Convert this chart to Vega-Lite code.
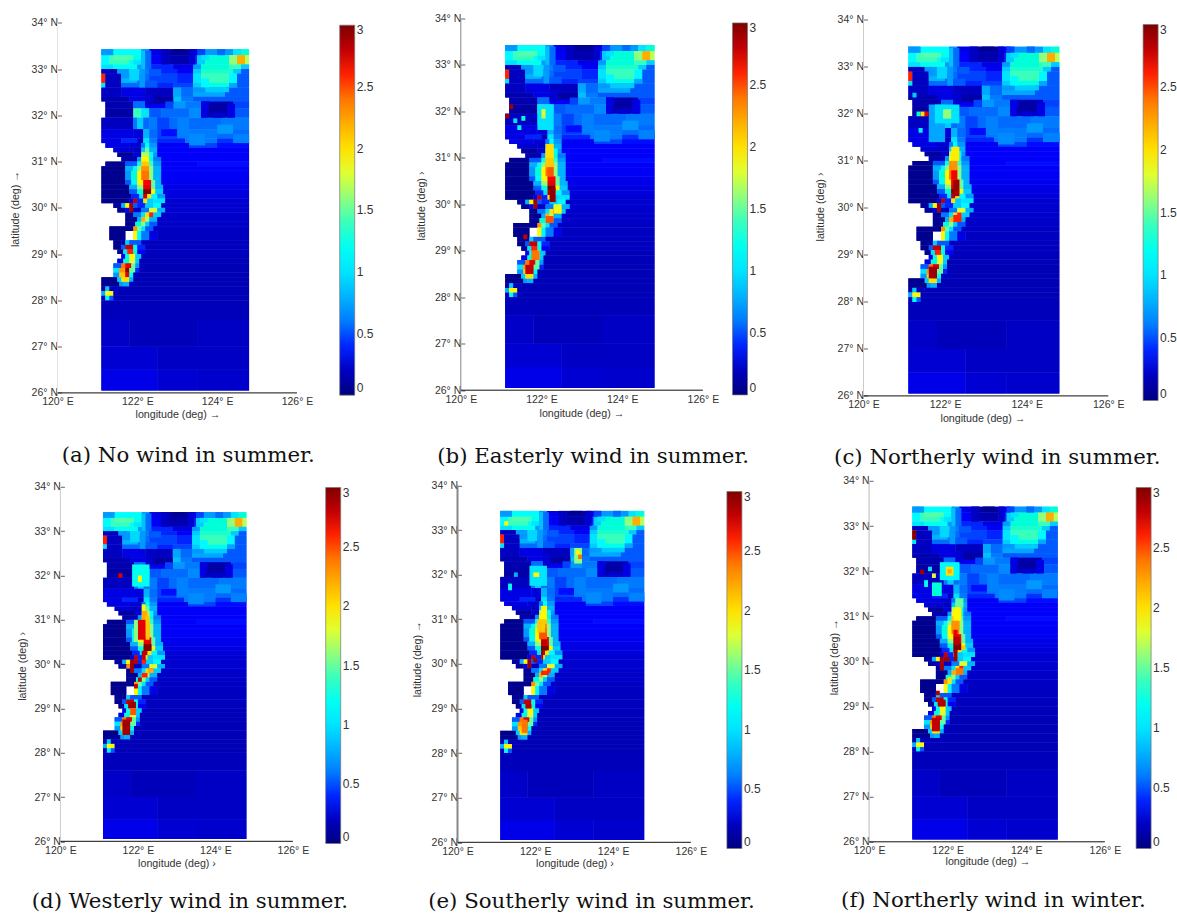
{"$schema":"https://vega.github.io/schema/vega-lite/v6.json","background":"white","padding":{"left":9.5,"top":13.5,"right":0,"bottom":0},
"config":{"view":{"stroke":null},"axis":{"grid":false,"labelFont":"Liberation Sans","titleFont":"Liberation Sans","labelColor":"#333","titleColor":"#333","titleFontWeight":"normal","labelFontSize":10.5,"titleFontSize":10.7,"labelFlush":false,"labelOverlap":false,"labelBound":false},
"legend":{"labelFont":"Liberation Sans","labelFontSize":12,"labelColor":"#333","gradientThickness":15,"gradientStrokeColor":"#777","gradientStrokeWidth":0.7,"labelOffset":3},
"title":{"font":"DejaVu Serif","fontSize":21.3,"fontWeight":"normal","color":"#111","orient":"bottom","anchor":"start","frame":"group"}},
"datasets":{
"leftLine":[{"x":120,"y":26,"y2":34}],
"botLine":[{"x":120,"x2":126,"y":26}],
"base":[
{"x":121.1,"x2":121.3,"y":33.3,"y2":33.43,"v":0.9},{"x":121.3,"x2":122.1,"y":33.3,"y2":33.43,"v":1.15},{"x":122.1,"x2":122.3,"y":33.3,"y2":33.43,"v":0.7},{"x":122.3,"x2":122.8,"y":33.3,"y2":33.43,"v":0.3},{"x":122.8,"x2":123.3,"y":33.3,"y2":33.43,"v":0.1},{"x":123.3,"x2":123.6,"y":33.3,"y2":33.43,"v":0.3},{"x":123.6,"x2":124.4,"y":33.3,"y2":33.43,"v":0.7},{"x":124.4,"x2":124.6,"y":33.3,"y2":33.43,"v":1.0},{"x":124.6,"x2":124.8,"y":33.3,"y2":33.43,"v":1.3},
{"x":121.1,"x2":121.3,"y":33.1,"y2":33.3,"v":1.1},{"x":121.3,"x2":121.8,"y":33.1,"y2":33.3,"v":1.4},{"x":121.8,"x2":122.1,"y":33.1,"y2":33.3,"v":1.2},{"x":122.1,"x2":122.3,"y":33.1,"y2":33.3,"v":0.7},{"x":122.3,"x2":122.8,"y":33.1,"y2":33.3,"v":0.35},{"x":122.8,"x2":123.3,"y":33.1,"y2":33.3,"v":0.15},{"x":123.3,"x2":123.5,"y":33.1,"y2":33.3,"v":0.4},{"x":123.5,"x2":123.7,"y":33.1,"y2":33.3,"v":0.9},{"x":123.7,"x2":124.3,"y":33.1,"y2":33.3,"v":1.3},{"x":124.3,"x2":124.5,"y":33.1,"y2":33.3,"v":1.6},{"x":124.5,"x2":124.7,"y":33.1,"y2":33.3,"v":2.2},{"x":124.7,"x2":124.8,"y":33.1,"y2":33.3,"v":1.7},
{"x":121.1,"x2":121.4,"y":33,"y2":33.1,"v":1.0},{"x":121.4,"x2":122,"y":33,"y2":33.1,"v":1.2},{"x":122,"x2":122.3,"y":33,"y2":33.1,"v":0.7},{"x":122.3,"x2":122.9,"y":33,"y2":33.1,"v":0.4},{"x":122.9,"x2":123.4,"y":33,"y2":33.1,"v":0.3},{"x":123.4,"x2":123.6,"y":33,"y2":33.1,"v":0.7},{"x":123.6,"x2":124.3,"y":33,"y2":33.1,"v":1.3},{"x":124.3,"x2":124.6,"y":33,"y2":33.1,"v":1.4},{"x":124.6,"x2":124.8,"y":33,"y2":33.1,"v":0.9},
{"x":121.1,"x2":121.5,"y":32.9,"y2":33,"v":0.2},{"x":121.5,"x2":121.7,"y":32.9,"y2":33,"v":0.7},{"x":121.7,"x2":122.1,"y":32.9,"y2":33,"v":1.0},{"x":122.1,"x2":122.3,"y":32.9,"y2":33,"v":0.6},{"x":122.3,"x2":123,"y":32.9,"y2":33,"v":0.4},{"x":123,"x2":123.4,"y":32.9,"y2":33,"v":0.35},{"x":123.4,"x2":123.6,"y":32.9,"y2":33,"v":0.9},{"x":123.6,"x2":124.4,"y":32.9,"y2":33,"v":1.35},{"x":124.4,"x2":124.6,"y":32.9,"y2":33,"v":0.9},{"x":124.6,"x2":124.8,"y":32.9,"y2":33,"v":0.5},
{"x":121.1,"x2":121.2,"y":32.7,"y2":32.9,"v":2.6},{"x":121.2,"x2":121.6,"y":32.7,"y2":32.9,"v":0.2},{"x":121.6,"x2":122,"y":32.7,"y2":32.9,"v":0.8},{"x":122,"x2":122.3,"y":32.7,"y2":32.9,"v":0.55},{"x":122.3,"x2":123,"y":32.7,"y2":32.9,"v":0.45},{"x":123,"x2":123.4,"y":32.7,"y2":32.9,"v":0.4},{"x":123.4,"x2":123.6,"y":32.7,"y2":32.9,"v":1.0},{"x":123.6,"x2":124.3,"y":32.7,"y2":32.9,"v":1.4},{"x":124.3,"x2":124.5,"y":32.7,"y2":32.9,"v":1.1},{"x":124.5,"x2":124.8,"y":32.7,"y2":32.9,"v":0.5},
{"x":121.1,"x2":121.2,"y":32.6,"y2":32.7,"v":1.0},{"x":121.2,"x2":121.6,"y":32.6,"y2":32.7,"v":0.2},{"x":121.6,"x2":122.1,"y":32.6,"y2":32.7,"v":0.55},{"x":122.1,"x2":122.9,"y":32.6,"y2":32.7,"v":0.4},{"x":122.9,"x2":123.4,"y":32.6,"y2":32.7,"v":0.45},{"x":123.4,"x2":123.6,"y":32.6,"y2":32.7,"v":0.9},{"x":123.6,"x2":124.3,"y":32.6,"y2":32.7,"v":1.25},{"x":124.3,"x2":124.5,"y":32.6,"y2":32.7,"v":0.9},{"x":124.5,"x2":124.8,"y":32.6,"y2":32.7,"v":0.5},
{"x":121.1,"x2":121.6,"y":32.4,"y2":32.6,"v":0.2},{"x":121.6,"x2":122.2,"y":32.4,"y2":32.6,"v":0.3},{"x":122.2,"x2":122.9,"y":32.4,"y2":32.6,"v":0.2},{"x":122.9,"x2":123.1,"y":32.4,"y2":32.6,"v":0.75},{"x":123.1,"x2":123.4,"y":32.4,"y2":32.6,"v":0.55},{"x":123.4,"x2":124.2,"y":32.4,"y2":32.6,"v":0.75},{"x":124.2,"x2":124.8,"y":32.4,"y2":32.6,"v":0.5},
{"x":121.1,"x2":121.8,"y":32.3,"y2":32.4,"v":0.15},{"x":121.8,"x2":122.2,"y":32.3,"y2":32.4,"v":0.3},{"x":122.2,"x2":122.9,"y":32.3,"y2":32.4,"v":0.15},{"x":122.9,"x2":123.1,"y":32.3,"y2":32.4,"v":0.85},{"x":123.1,"x2":123.4,"y":32.3,"y2":32.4,"v":0.6},{"x":123.4,"x2":124.8,"y":32.3,"y2":32.4,"v":0.5},
{"x":121.2,"x2":121.9,"y":32.15,"y2":32.3,"v":0.15},{"x":121.9,"x2":122.2,"y":32.15,"y2":32.3,"v":0.55},{"x":122.2,"x2":122.9,"y":32.15,"y2":32.3,"v":0.35},{"x":122.9,"x2":123.2,"y":32.15,"y2":32.3,"v":0.7},{"x":123.2,"x2":123.6,"y":32.15,"y2":32.3,"v":0.6},{"x":123.6,"x2":124.4,"y":32.15,"y2":32.3,"v":0.15},{"x":124.4,"x2":124.8,"y":32.15,"y2":32.3,"v":0.45},
{"x":121.2,"x2":121.9,"y":31.95,"y2":32.15,"v":0.12},{"x":121.9,"x2":122.1,"y":31.95,"y2":32.15,"v":1.4},{"x":122.1,"x2":122.3,"y":31.95,"y2":32.15,"v":1.0},{"x":122.3,"x2":122.6,"y":31.95,"y2":32.15,"v":0.5},{"x":122.6,"x2":123.3,"y":31.95,"y2":32.15,"v":0.55},{"x":123.3,"x2":123.6,"y":31.95,"y2":32.15,"v":0.65},{"x":123.6,"x2":124.4,"y":31.95,"y2":32.15,"v":0.2},{"x":124.4,"x2":124.8,"y":31.95,"y2":32.15,"v":0.5},
{"x":121.1,"x2":121.9,"y":31.7,"y2":31.95,"v":0.2},{"x":121.9,"x2":122,"y":31.7,"y2":31.95,"v":0.6},{"x":122,"x2":122.15,"y":31.7,"y2":31.95,"v":0.9},{"x":122.15,"x2":122.3,"y":31.7,"y2":31.95,"v":0.55},{"x":122.3,"x2":122.5,"y":31.7,"y2":31.95,"v":0.6},{"x":122.5,"x2":124.1,"y":31.7,"y2":31.95,"v":0.55},{"x":124.1,"x2":124.8,"y":31.7,"y2":31.95,"v":0.6},
{"x":121.1,"x2":121.9,"y":31.5,"y2":31.7,"v":0.3},{"x":121.9,"x2":122.15,"y":31.5,"y2":31.7,"v":0.28},{"x":122.15,"x2":122.3,"y":31.5,"y2":31.7,"v":0.8},{"x":122.3,"x2":122.5,"y":31.5,"y2":31.7,"v":0.55},{"x":122.5,"x2":123,"y":31.5,"y2":31.7,"v":0.45},{"x":123,"x2":124,"y":31.5,"y2":31.7,"v":0.6},{"x":124,"x2":124.8,"y":31.5,"y2":31.7,"v":0.55},
{"x":121.1,"x2":121.6,"y":31.4,"y2":31.5,"v":0.3},{"x":121.6,"x2":122,"y":31.4,"y2":31.5,"v":0.4},{"x":122,"x2":122.15,"y":31.4,"y2":31.5,"v":0.2},{"x":122.15,"x2":122.3,"y":31.4,"y2":31.5,"v":1.0},{"x":122.3,"x2":122.5,"y":31.4,"y2":31.5,"v":0.6},{"x":122.5,"x2":123.2,"y":31.4,"y2":31.5,"v":0.4},{"x":123.2,"x2":124,"y":31.4,"y2":31.5,"v":0.6},{"x":124,"x2":124.8,"y":31.4,"y2":31.5,"v":0.42},
{"x":121.2,"x2":121.8,"y":31.3,"y2":31.4,"v":0.3},{"x":121.8,"x2":122.1,"y":31.3,"y2":31.4,"v":0.25},{"x":122.1,"x2":122.2,"y":31.3,"y2":31.4,"v":0.6},{"x":122.2,"x2":122.3,"y":31.3,"y2":31.4,"v":1.2},{"x":122.3,"x2":122.5,"y":31.3,"y2":31.4,"v":0.7},{"x":122.5,"x2":123.3,"y":31.3,"y2":31.4,"v":0.35},{"x":123.3,"x2":124,"y":31.3,"y2":31.4,"v":0.45},{"x":124,"x2":124.8,"y":31.3,"y2":31.4,"v":0.38},
{"x":121.4,"x2":121.9,"y":31.2,"y2":31.3,"v":0.25},{"x":121.9,"x2":122.1,"y":31.2,"y2":31.3,"v":0.2},{"x":122.1,"x2":122.2,"y":31.2,"y2":31.3,"v":0.9},{"x":122.2,"x2":122.3,"y":31.2,"y2":31.3,"v":1.5},{"x":122.3,"x2":122.5,"y":31.2,"y2":31.3,"v":0.8},{"x":122.5,"x2":124.8,"y":31.2,"y2":31.3,"v":0.36},
{"x":121.5,"x2":121.9,"y":31.1,"y2":31.2,"v":0.1},{"x":121.9,"x2":122.1,"y":31.1,"y2":31.2,"v":0.25},{"x":122.1,"x2":122.3,"y":31.1,"y2":31.2,"v":1.7},{"x":122.3,"x2":122.4,"y":31.1,"y2":31.2,"v":1.2},{"x":122.4,"x2":122.5,"y":31.1,"y2":31.2,"v":0.7},{"x":122.5,"x2":124.8,"y":31.1,"y2":31.2,"v":0.36},
{"x":121.6,"x2":122,"y":31,"y2":31.1,"v":0.15},{"x":122,"x2":122.1,"y":31,"y2":31.1,"v":0.7},{"x":122.1,"x2":122.3,"y":31,"y2":31.1,"v":1.9},{"x":122.3,"x2":122.4,"y":31,"y2":31.1,"v":1.3},{"x":122.4,"x2":122.6,"y":31,"y2":31.1,"v":0.6},{"x":122.6,"x2":124.8,"y":31,"y2":31.1,"v":0.36},
{"x":121.2,"x2":121.7,"y":30.9,"y2":31,"v":0.05},{"x":121.7,"x2":122,"y":30.9,"y2":31,"v":0.5},{"x":122,"x2":122.1,"y":30.9,"y2":31,"v":1.2},{"x":122.1,"x2":122.3,"y":30.9,"y2":31,"v":2.1},{"x":122.3,"x2":122.4,"y":30.9,"y2":31,"v":1.4},{"x":122.4,"x2":122.6,"y":30.9,"y2":31,"v":0.7},{"x":122.6,"x2":123.5,"y":30.9,"y2":31,"v":0.36},{"x":123.5,"x2":124.8,"y":30.9,"y2":31,"v":0.38},
{"x":121.1,"x2":121.7,"y":30.8,"y2":30.9,"v":0.05},{"x":121.7,"x2":121.9,"y":30.8,"y2":30.9,"v":0.8},{"x":121.9,"x2":122,"y":30.8,"y2":30.9,"v":1.1},{"x":122,"x2":122.1,"y":30.8,"y2":30.9,"v":1.6},{"x":122.1,"x2":122.3,"y":30.8,"y2":30.9,"v":2.3},{"x":122.3,"x2":122.4,"y":30.8,"y2":30.9,"v":1.6},{"x":122.4,"x2":122.6,"y":30.8,"y2":30.9,"v":0.8},{"x":122.6,"x2":124.8,"y":30.8,"y2":30.9,"v":0.36},
{"x":121.1,"x2":121.7,"y":30.6,"y2":30.8,"v":0.05},{"x":121.7,"x2":121.85,"y":30.6,"y2":30.8,"v":0.7},{"x":121.85,"x2":122,"y":30.6,"y2":30.8,"v":1.3},{"x":122,"x2":122.1,"y":30.6,"y2":30.8,"v":1.9},{"x":122.1,"x2":122.3,"y":30.6,"y2":30.8,"v":2.4},{"x":122.3,"x2":122.4,"y":30.6,"y2":30.8,"v":1.6},{"x":122.4,"x2":122.6,"y":30.6,"y2":30.8,"v":0.8},{"x":122.6,"x2":124.8,"y":30.6,"y2":30.8,"v":0.35},
{"x":121.1,"x2":121.7,"y":30.5,"y2":30.6,"v":0.05},{"x":121.7,"x2":121.85,"y":30.5,"y2":30.6,"v":0.5},{"x":121.85,"x2":122,"y":30.5,"y2":30.6,"v":1.1},{"x":122,"x2":122.15,"y":30.5,"y2":30.6,"v":1.9},{"x":122.15,"x2":122.35,"y":30.5,"y2":30.6,"v":2.65},{"x":122.35,"x2":122.45,"y":30.5,"y2":30.6,"v":1.5},{"x":122.45,"x2":122.6,"y":30.5,"y2":30.6,"v":0.8},{"x":122.6,"x2":124.8,"y":30.5,"y2":30.6,"v":0.33},
{"x":121.1,"x2":121.8,"y":30.4,"y2":30.5,"v":0.05},{"x":121.8,"x2":122,"y":30.4,"y2":30.5,"v":0.8},{"x":122,"x2":122.15,"y":30.4,"y2":30.5,"v":1.6},{"x":122.15,"x2":122.35,"y":30.4,"y2":30.5,"v":2.7},{"x":122.35,"x2":122.45,"y":30.4,"y2":30.5,"v":1.5},{"x":122.45,"x2":122.65,"y":30.4,"y2":30.5,"v":0.8},{"x":122.65,"x2":124.8,"y":30.4,"y2":30.5,"v":0.31},
{"x":121.1,"x2":121.8,"y":30.3,"y2":30.4,"v":0.05},{"x":121.8,"x2":122,"y":30.3,"y2":30.4,"v":0.5},{"x":122,"x2":122.15,"y":30.3,"y2":30.4,"v":1.3},{"x":122.15,"x2":122.35,"y":30.3,"y2":30.4,"v":3},{"x":122.35,"x2":122.45,"y":30.3,"y2":30.4,"v":1.9},{"x":122.45,"x2":122.65,"y":30.3,"y2":30.4,"v":0.9},{"x":122.65,"x2":124.8,"y":30.3,"y2":30.4,"v":0.29},
{"x":121.1,"x2":121.85,"y":30.2,"y2":30.3,"v":0.05},{"x":121.85,"x2":122.05,"y":30.2,"y2":30.3,"v":0.4},{"x":122.05,"x2":122.15,"y":30.2,"y2":30.3,"v":1.0},{"x":122.15,"x2":122.25,"y":30.2,"y2":30.3,"v":2.8},{"x":122.25,"x2":122.35,"y":30.2,"y2":30.3,"v":2.0},{"x":122.35,"x2":122.5,"y":30.2,"y2":30.3,"v":1.1},{"x":122.5,"x2":122.7,"y":30.2,"y2":30.3,"v":0.7},{"x":122.7,"x2":124.8,"y":30.2,"y2":30.3,"v":0.27},
{"x":121.1,"x2":121.8,"y":30.1,"y2":30.2,"v":0.05},{"x":121.8,"x2":121.9,"y":30.1,"y2":30.2,"v":0.3},{"x":121.9,"x2":122,"y":30.1,"y2":30.2,"v":2.8},{"x":122,"x2":122.15,"y":30.1,"y2":30.2,"v":0.4},{"x":122.15,"x2":122.25,"y":30.1,"y2":30.2,"v":2.0},{"x":122.25,"x2":122.4,"y":30.1,"y2":30.2,"v":0.9},{"x":122.4,"x2":122.7,"y":30.1,"y2":30.2,"v":1.0},{"x":122.7,"x2":124.8,"y":30.1,"y2":30.2,"v":0.25},
{"x":121.4,"x2":121.6,"y":30,"y2":30.1,"v":0.1},{"x":121.6,"x2":121.7,"y":30,"y2":30.1,"v":0.8},{"x":121.7,"x2":121.8,"y":30,"y2":30.1,"v":1.9},{"x":121.8,"x2":121.9,"y":30,"y2":30.1,"v":2.9},{"x":121.9,"x2":122,"y":30,"y2":30.1,"v":0.5},{"x":122,"x2":122.2,"y":30,"y2":30.1,"v":0.4},{"x":122.2,"x2":122.4,"y":30,"y2":30.1,"v":0.9},{"x":122.4,"x2":122.6,"y":30,"y2":30.1,"v":1.1},{"x":122.6,"x2":124.8,"y":30,"y2":30.1,"v":0.24},
{"x":121.5,"x2":121.7,"y":29.9,"y2":30,"v":0.1},{"x":121.7,"x2":121.8,"y":29.9,"y2":30,"v":0.3},{"x":121.8,"x2":121.9,"y":29.9,"y2":30,"v":2.9},{"x":121.9,"x2":122.1,"y":29.9,"y2":30,"v":0.2},{"x":122.1,"x2":122.3,"y":29.9,"y2":30,"v":0.6},{"x":122.3,"x2":122.5,"y":29.9,"y2":30,"v":1.8},{"x":122.5,"x2":122.7,"y":29.9,"y2":30,"v":0.8},{"x":122.7,"x2":124.8,"y":29.9,"y2":30,"v":0.24},
{"x":121.7,"x2":121.9,"y":29.8,"y2":29.9,"v":0.08},{"x":121.9,"x2":122.1,"y":29.8,"y2":29.9,"v":0.6},{"x":122.1,"x2":122.2,"y":29.8,"y2":29.9,"v":1.0},{"x":122.2,"x2":122.3,"y":29.8,"y2":29.9,"v":2.0},{"x":122.3,"x2":122.4,"y":29.8,"y2":29.9,"v":2.6},{"x":122.4,"x2":122.6,"y":29.8,"y2":29.9,"v":0.9},{"x":122.6,"x2":124.8,"y":29.8,"y2":29.9,"v":0.23},
{"x":121.7,"x2":122,"y":29.7,"y2":29.8,"v":0.06},{"x":122,"x2":122.1,"y":29.7,"y2":29.8,"v":0.8},{"x":122.1,"x2":122.2,"y":29.7,"y2":29.8,"v":2.2},{"x":122.2,"x2":122.3,"y":29.7,"y2":29.8,"v":1.7},{"x":122.3,"x2":122.5,"y":29.7,"y2":29.8,"v":0.8},{"x":122.5,"x2":124.8,"y":29.7,"y2":29.8,"v":0.22},
{"x":121.7,"x2":121.95,"y":29.6,"y2":29.7,"v":0.06},{"x":121.95,"x2":122.1,"y":29.6,"y2":29.7,"v":1.3},{"x":122.1,"x2":122.2,"y":29.6,"y2":29.7,"v":1.6},{"x":122.2,"x2":122.3,"y":29.6,"y2":29.7,"v":0.9},{"x":122.3,"x2":122.5,"y":29.6,"y2":29.7,"v":0.5},{"x":122.5,"x2":124.8,"y":29.6,"y2":29.7,"v":0.22},
{"x":121.3,"x2":121.9,"y":29.5,"y2":29.6,"v":0.05},{"x":121.9,"x2":122,"y":29.5,"y2":29.6,"v":2.3},{"x":122,"x2":122.1,"y":29.5,"y2":29.6,"v":1.5},{"x":122.1,"x2":122.2,"y":29.5,"y2":29.6,"v":1.0},{"x":122.2,"x2":122.4,"y":29.5,"y2":29.6,"v":0.5},{"x":122.4,"x2":124.8,"y":29.5,"y2":29.6,"v":0.21},
{"x":121.3,"x2":121.7,"y":29.3,"y2":29.5,"v":0.05},{"x":121.9,"x2":122,"y":29.3,"y2":29.5,"v":1.9},{"x":122,"x2":122.1,"y":29.3,"y2":29.5,"v":1.1},{"x":122.1,"x2":122.3,"y":29.3,"y2":29.5,"v":0.6},{"x":122.3,"x2":122.5,"y":29.3,"y2":29.5,"v":0.3},{"x":122.5,"x2":124.8,"y":29.3,"y2":29.5,"v":0.2},
{"x":121.4,"x2":121.6,"y":29.2,"y2":29.3,"v":0.06},{"x":121.6,"x2":121.7,"y":29.2,"y2":29.3,"v":0.1},{"x":121.7,"x2":121.8,"y":29.2,"y2":29.3,"v":0.9},{"x":121.8,"x2":122.1,"y":29.2,"y2":29.3,"v":0.5},{"x":122.1,"x2":124.8,"y":29.2,"y2":29.3,"v":0.2},
{"x":121.4,"x2":121.6,"y":29.1,"y2":29.2,"v":0.05},{"x":121.6,"x2":121.7,"y":29.1,"y2":29.2,"v":0.5},{"x":121.7,"x2":121.9,"y":29.1,"y2":29.2,"v":2.8},{"x":121.9,"x2":122,"y":29.1,"y2":29.2,"v":1.2},{"x":122,"x2":122.2,"y":29.1,"y2":29.2,"v":0.4},{"x":122.2,"x2":124.8,"y":29.1,"y2":29.2,"v":0.19},
{"x":121.5,"x2":121.65,"y":29,"y2":29.1,"v":0.05},{"x":121.65,"x2":121.75,"y":29,"y2":29.1,"v":1.0},{"x":121.75,"x2":121.9,"y":29,"y2":29.1,"v":2.6},{"x":121.9,"x2":122,"y":29,"y2":29.1,"v":1.3},{"x":122,"x2":122.2,"y":29,"y2":29.1,"v":0.35},{"x":122.2,"x2":124.8,"y":29,"y2":29.1,"v":0.19},
{"x":121.6,"x2":121.7,"y":28.9,"y2":29,"v":0.3},{"x":121.7,"x2":121.8,"y":28.9,"y2":29,"v":1.2},{"x":121.8,"x2":121.95,"y":28.9,"y2":29,"v":1.9},{"x":121.95,"x2":122.1,"y":28.9,"y2":29,"v":0.9},{"x":122.1,"x2":124.8,"y":28.9,"y2":29,"v":0.18},
{"x":121.5,"x2":121.65,"y":28.8,"y2":28.9,"v":0.3},{"x":121.65,"x2":121.8,"y":28.8,"y2":28.9,"v":1.3},{"x":121.8,"x2":121.95,"y":28.8,"y2":28.9,"v":1.8},{"x":121.95,"x2":122.05,"y":28.8,"y2":28.9,"v":0.9},{"x":122.05,"x2":124.8,"y":28.8,"y2":28.9,"v":0.18},
{"x":121.4,"x2":121.6,"y":28.7,"y2":28.8,"v":0.5},{"x":121.6,"x2":121.7,"y":28.7,"y2":28.8,"v":2.4},{"x":121.7,"x2":121.85,"y":28.7,"y2":28.8,"v":2.7},{"x":121.85,"x2":121.95,"y":28.7,"y2":28.8,"v":1.5},{"x":121.95,"x2":122.05,"y":28.7,"y2":28.8,"v":0.7},{"x":122.05,"x2":124.8,"y":28.7,"y2":28.8,"v":0.17},
{"x":121.4,"x2":121.55,"y":28.6,"y2":28.7,"v":1.0},{"x":121.55,"x2":121.7,"y":28.6,"y2":28.7,"v":2.3},{"x":121.7,"x2":121.8,"y":28.6,"y2":28.7,"v":2.95},{"x":121.8,"x2":121.95,"y":28.6,"y2":28.7,"v":1.5},{"x":121.95,"x2":122.05,"y":28.6,"y2":28.7,"v":0.4},{"x":122.05,"x2":124.8,"y":28.6,"y2":28.7,"v":0.17},
{"x":121.4,"x2":121.55,"y":28.5,"y2":28.6,"v":0.7},{"x":121.55,"x2":121.7,"y":28.5,"y2":28.6,"v":2.1},{"x":121.7,"x2":121.8,"y":28.5,"y2":28.6,"v":2.7},{"x":121.8,"x2":121.9,"y":28.5,"y2":28.6,"v":1.2},{"x":121.9,"x2":124.8,"y":28.5,"y2":28.6,"v":0.17},
{"x":121.1,"x2":121.5,"y":28.4,"y2":28.5,"v":0.05},{"x":121.5,"x2":121.6,"y":28.4,"y2":28.5,"v":0.9},{"x":121.6,"x2":121.8,"y":28.4,"y2":28.5,"v":2.0},{"x":121.8,"x2":121.9,"y":28.4,"y2":28.5,"v":0.8},{"x":121.9,"x2":124.8,"y":28.4,"y2":28.5,"v":0.17},
{"x":121.1,"x2":121.55,"y":28.3,"y2":28.4,"v":0.06},{"x":121.55,"x2":121.65,"y":28.3,"y2":28.4,"v":0.7},{"x":121.65,"x2":121.8,"y":28.3,"y2":28.4,"v":0.8},{"x":121.8,"x2":124.8,"y":28.3,"y2":28.4,"v":0.17},
{"x":121.1,"x2":121.2,"y":28.2,"y2":28.3,"v":0.15},{"x":121.2,"x2":121.3,"y":28.2,"y2":28.3,"v":0.9},{"x":121.3,"x2":121.5,"y":28.2,"y2":28.3,"v":0.2},{"x":121.5,"x2":124.8,"y":28.2,"y2":28.3,"v":0.17},
{"x":121.1,"x2":121.2,"y":28.1,"y2":28.2,"v":0.8},{"x":121.2,"x2":121.4,"y":28.1,"y2":28.2,"v":1.9},{"x":121.4,"x2":124.8,"y":28.1,"y2":28.2,"v":0.17},
{"x":121.1,"x2":121.2,"y":28,"y2":28.1,"v":0.2},{"x":121.2,"x2":121.3,"y":28,"y2":28.1,"v":1.1},{"x":121.3,"x2":121.4,"y":28,"y2":28.1,"v":0.5},{"x":121.4,"x2":124.8,"y":28,"y2":28.1,"v":0.17},
{"x":121.1,"x2":124.8,"y":27.6,"y2":28,"v":0.18},
{"x":121.1,"x2":121.8,"y":27,"y2":27.6,"v":0.22},{"x":121.8,"x2":123.5,"y":27,"y2":27.6,"v":0.18},{"x":123.5,"x2":124.8,"y":27,"y2":27.6,"v":0.21},
{"x":121.1,"x2":122.5,"y":26.5,"y2":27,"v":0.25},{"x":122.5,"x2":124.8,"y":26.5,"y2":27,"v":0.21},
{"x":121.1,"x2":122.5,"y":26.05,"y2":26.5,"v":0.31},{"x":122.5,"x2":123.5,"y":26.05,"y2":26.5,"v":0.25},{"x":123.5,"x2":124.8,"y":26.05,"y2":26.5,"v":0.23},
{"x":123.5,"x2":123.7,"y":33.3,"y2":33.43,"v":0.45},{"x":123.6,"x2":123.8,"y":33.2,"y2":33.3,"v":1.0},{"x":124.3,"x2":124.5,"y":32.6,"y2":32.7,"v":0.75},{"x":123.6,"x2":123.8,"y":32.6,"y2":32.8,"v":1.1},{"x":123.7,"x2":124.3,"y":32.5,"y2":32.6,"v":0.9},{"x":123.4,"x2":123.7,"y":32.5,"y2":32.6,"v":0.7},{"x":124,"x2":124.2,"y":33.3,"y2":33.43,"v":0.55},
{"x":121.1,"x2":121.4,"y":33.3,"y2":33.43,"v":0.7},{"x":121.4,"x2":121.9,"y":33.2,"y2":33.3,"v":1.45},{"x":121.9,"x2":122.1,"y":33.1,"y2":33.2,"v":1.0},{"x":122.1,"x2":122.2,"y":33,"y2":33.4,"v":0.85},{"x":122.2,"x2":122.35,"y":33,"y2":33.4,"v":0.55},{"x":121.6,"x2":121.8,"y":32.8,"y2":33,"v":0.7},{"x":121.8,"x2":122.05,"y":32.75,"y2":33,"v":0.95},{"x":122.05,"x2":122.2,"y":32.6,"y2":33,"v":0.7},
{"x":122.6,"x2":122.8,"y":33.1,"y2":33.43,"v":0.2},{"x":123.3,"x2":123.45,"y":33.1,"y2":33.43,"v":0.25},{"x":122.9,"x2":123.2,"y":33.35,"y2":33.43,"v":0.05},
{"x":122.3,"x2":122.6,"y":32.85,"y2":33,"v":0.5},{"x":122.2,"x2":122.5,"y":32.6,"y2":32.75,"v":0.5},{"x":122.4,"x2":122.9,"y":32.25,"y2":32.4,"v":0.12},{"x":122.2,"x2":122.4,"y":32.2,"y2":32.45,"v":0.25},{"x":122.7,"x2":122.9,"y":32.15,"y2":32.3,"v":0.45},
{"x":123.6,"x2":123.8,"y":32.15,"y2":32.3,"v":0.3},{"x":123.8,"x2":124.3,"y":32.05,"y2":32.25,"v":0.12},{"x":123.6,"x2":123.75,"y":31.95,"y2":32.15,"v":0.3},{"x":124.25,"x2":124.45,"y":31.95,"y2":32.25,"v":0.3},{"x":123.9,"x2":124.2,"y":31.95,"y2":32.05,"v":0.25},
{"x":122.6,"x2":123,"y":31.55,"y2":31.7,"v":0.38},{"x":123,"x2":123.3,"y":31.55,"y2":31.95,"v":0.62},{"x":123.3,"x2":123.7,"y":31.35,"y2":31.6,"v":0.65},{"x":124,"x2":124.4,"y":31.6,"y2":31.8,"v":0.7},{"x":124.4,"x2":124.8,"y":31.4,"y2":31.6,"v":0.62},{"x":122.5,"x2":122.8,"y":31.7,"y2":31.95,"v":0.45}
],
"b":[
{"x":121.9,"x2":122.3,"y":31.6,"y2":32.15,"v":1.0},{"x":122,"x2":122.1,"y":31.85,"y2":32.05,"v":1.8},
{"x":121.2,"x2":121.3,"y":32.05,"y2":32.15,"v":2.9},{"x":121.1,"x2":121.2,"y":31.85,"y2":31.95,"v":2.9},{"x":121.3,"x2":121.4,"y":31.75,"y2":31.85,"v":1.0},{"x":121.5,"x2":121.6,"y":31.8,"y2":31.9,"v":1.3},{"x":121.4,"x2":121.5,"y":31.6,"y2":31.7,"v":1.1},
{"x":122.1,"x2":122.3,"y":31.0,"y2":31.3,"v":2.0},{"x":122.1,"x2":122.3,"y":30.8,"y2":31,"v":2.1},{"x":122.15,"x2":122.3,"y":30.6,"y2":30.8,"v":2.5},{"x":122.2,"x2":122.35,"y":30.05,"y2":30.35,"v":2.95},
{"x":122.1,"x2":122.3,"y":29.6,"y2":29.75,"v":2.5},{"x":122.3,"x2":122.5,"y":29.8,"y2":29.9,"v":1.9},{"x":121.55,"x2":121.65,"y":29.25,"y2":29.35,"v":2.8},{"x":121.6,"x2":121.8,"y":28.5,"y2":28.7,"v":2.8},{"x":121.75,"x2":121.95,"y":28.8,"y2":29,"v":2.4}
],
"c":[
{"x":121.6,"x2":122,"y":31.4,"y2":32.2,"v":0.75},{"x":121.75,"x2":122.35,"y":31.8,"y2":32.2,"v":1.0},{"x":121.95,"x2":122.15,"y":31.9,"y2":32.1,"v":1.6},
{"x":121.3,"x2":121.4,"y":31.95,"y2":32.05,"v":1.3},{"x":121.4,"x2":121.5,"y":31.95,"y2":32.05,"v":2.0},{"x":121.5,"x2":121.6,"y":31.95,"y2":32.05,"v":2.7},{"x":121.2,"x2":121.3,"y":32.35,"y2":32.45,"v":0.9},{"x":121.35,"x2":121.45,"y":31.6,"y2":31.7,"v":1.1},
{"x":122.15,"x2":122.35,"y":31,"y2":31.3,"v":1.95},{"x":122.1,"x2":122.3,"y":30.8,"y2":31,"v":2.3},{"x":122.15,"x2":122.3,"y":30.6,"y2":30.8,"v":2.65},{"x":122.2,"x2":122.35,"y":30.25,"y2":30.6,"v":2.9},
{"x":122.2,"x2":122.4,"y":29.7,"y2":29.85,"v":2.6},{"x":121.6,"x2":121.8,"y":28.5,"y2":28.75,"v":2.9}
],
"d":[
{"x":121.85,"x2":122.3,"y":31.75,"y2":32.25,"v":1.2},{"x":122,"x2":122.1,"y":31.85,"y2":32,"v":1.9},{"x":121.5,"x2":121.6,"y":31.95,"y2":32.05,"v":2.7},
{"x":122.1,"x2":122.2,"y":31.2,"y2":31.35,"v":1.9},{"x":122.1,"x2":122.25,"y":31,"y2":31.2,"v":2.2},{"x":122,"x2":122.2,"y":30.55,"y2":31,"v":2.7},{"x":122.2,"x2":122.3,"y":30.55,"y2":31.1,"v":2.1},{"x":121.9,"x2":122,"y":30.5,"y2":31,"v":1.6},
{"x":122.15,"x2":122.35,"y":30.3,"y2":30.45,"v":3},{"x":122.1,"x2":122.2,"y":30.05,"y2":30.3,"v":2.8},{"x":121.9,"x2":122,"y":30,"y2":30.1,"v":2.85},{"x":122.1,"x2":122.2,"y":30,"y2":30.1,"v":2.6},{"x":121.7,"x2":121.8,"y":29.9,"y2":30,"v":2.3},{"x":121.8,"x2":121.9,"y":29.8,"y2":30,"v":2.9},
{"x":122.1,"x2":122.25,"y":29.7,"y2":29.8,"v":2.6},{"x":122,"x2":122.1,"y":29.6,"y2":29.7,"v":2.8},{"x":122.25,"x2":122.4,"y":29.8,"y2":29.9,"v":2.2},{"x":121.9,"x2":122,"y":29.45,"y2":29.55,"v":2.8},{"x":121.75,"x2":121.95,"y":29,"y2":29.15,"v":2.9},{"x":121.6,"x2":121.8,"y":28.4,"y2":28.75,"v":2.9},{"x":121.8,"x2":121.95,"y":28.85,"y2":29,"v":2.5}
],
"e":[
{"x":121.2,"x2":121.3,"y":33.1,"y2":33.2,"v":1.9},{"x":123,"x2":123.2,"y":32.25,"y2":32.6,"v":1.6},{"x":123.05,"x2":123.15,"y":32.45,"y2":32.55,"v":1.9},{"x":123.1,"x2":123.2,"y":32.35,"y2":32.45,"v":2.4},
{"x":121.85,"x2":122.3,"y":31.75,"y2":32.2,"v":1.0},{"x":121.95,"x2":122.1,"y":31.95,"y2":32.05,"v":1.9},{"x":121.3,"x2":121.4,"y":31.65,"y2":31.8,"v":1.2},{"x":121.45,"x2":121.55,"y":31.95,"y2":32.05,"v":0.8},
{"x":122.15,"x2":122.3,"y":31,"y2":31.3,"v":1.9},{"x":122.05,"x2":122.25,"y":30.7,"y2":31,"v":2.1},{"x":122.1,"x2":122.3,"y":30.55,"y2":30.7,"v":2.5},{"x":122.15,"x2":122.3,"y":30.4,"y2":30.55,"v":2.8},{"x":122.15,"x2":122.3,"y":30.3,"y2":30.4,"v":3},{"x":122.15,"x2":122.2,"y":30.1,"y2":30.3,"v":2.9},
{"x":121.95,"x2":122.05,"y":30.03,"y2":30.12,"v":2.9},{"x":122.15,"x2":122.35,"y":29.75,"y2":29.85,"v":2.6},{"x":121.75,"x2":121.9,"y":29,"y2":29.1,"v":2.85},{"x":121.65,"x2":121.8,"y":28.45,"y2":28.75,"v":2.4}
],
"f":[
{"x":121.1,"x2":121.2,"y":32.7,"y2":32.9,"v":3},{"x":121.6,"x2":121.85,"y":31.45,"y2":31.75,"v":1.3},{"x":121.8,"x2":122.3,"y":31.8,"y2":32.2,"v":1.1},{"x":121.95,"x2":122.15,"y":31.9,"y2":32.1,"v":2.0},{"x":122,"x2":122.1,"y":31.95,"y2":32.05,"v":2.2},
{"x":121.3,"x2":121.4,"y":31.93,"y2":32.03,"v":2.9},{"x":121.5,"x2":121.6,"y":32,"y2":32.1,"v":1.0},{"x":121.6,"x2":121.7,"y":31.85,"y2":31.95,"v":1.8},{"x":121.4,"x2":121.5,"y":31.65,"y2":31.8,"v":1.1},
{"x":122.2,"x2":122.4,"y":31.2,"y2":31.4,"v":1.5},{"x":122.15,"x2":122.35,"y":30.9,"y2":31.2,"v":1.9},{"x":122.1,"x2":122.3,"y":30.7,"y2":30.9,"v":2.3},{"x":122.15,"x2":122.25,"y":30.55,"y2":30.7,"v":2.7},{"x":122.15,"x2":122.3,"y":30.35,"y2":30.55,"v":2.85},{"x":122.15,"x2":122.35,"y":30.25,"y2":30.35,"v":3},{"x":122.15,"x2":122.25,"y":30,"y2":30.25,"v":2.9},{"x":122.35,"x2":122.45,"y":30.25,"y2":30.35,"v":2.1},
{"x":121.9,"x2":122.05,"y":30,"y2":30.1,"v":2.9},{"x":121.8,"x2":121.9,"y":29.8,"y2":30,"v":2.9},{"x":122.2,"x2":122.4,"y":29.7,"y2":29.85,"v":2.4},{"x":122,"x2":122.1,"y":29.5,"y2":29.65,"v":2.0},{"x":121.7,"x2":121.8,"y":29.25,"y2":29.35,"v":2.85},{"x":121.75,"x2":121.95,"y":29,"y2":29.15,"v":2.85},{"x":121.6,"x2":121.8,"y":28.45,"y2":28.75,"v":2.8}
]},
"columns":3,"spacing":{"row":84.3,"column":0},"bounds":"flush","resolve":{"scale":{"color":"independent"}},
"concat":[
{"width":399.5,"height":374.4,"title":{"text":"(a) No wind in summer.","dx":4.2,"offset":26},
"encoding":{"x":{"field":"x","type":"quantitative","scale":{"domain":[120,130.01],"nice":false,"zero":false},"axis":{"values":[120,122,124,126],"labelExpr":"datum.value + '° E'","ticks":false,"domain":false,"labelPadding":4,"title":"longitude (deg) →","titleX":120,"titleY":16.5}},"y":{"field":"y","type":"quantitative","scale":{"domain":[26,34.093],"nice":false,"zero":false},"axis":{"values":[26,27,28,29,30,31,32,33,34],"labelExpr":"datum.value + '° N'","domain":false,"tickSize":-4,"tickColor":"#666","labelPadding":4,"title":"latitude (deg) →","titleX":-36.8,"titleY":190}}},
"layer":[
{"data":{"name":"base"},"mark":"rect","encoding":{"x2":{"field":"x2"},"y2":{"field":"y2"},"color":{"field":"v","type":"quantitative","scale":{"domain":[0,0.375,1.125,1.875,2.625,3],"range":["#00007f","#0000ff","#00ffff","#ffff00","#ff0000","#7f0000"]},"legend":{"type":"gradient","format":"~g","orient":"none","legendX":282.2,"legendY":6.7,"gradientLength":370,"direction":"vertical","title":null,"values":[0,0.5,1,1.5,2,2.5,3]}}}},
{"data":{"name":"base"},"mark":"rect","encoding":{"x2":{"field":"x2"},"y2":{"field":"y2"},"color":{"field":"v","type":"quantitative","legend":null}}},
{"data":{"name":"leftLine"},"mark":{"type":"rule","color":"#e4e4e4","strokeWidth":1},"encoding":{"y2":{"field":"y2"}}},
{"data":{"name":"botLine"},"mark":{"type":"rule","color":"#111","strokeWidth":1},"encoding":{"x2":{"field":"x2"}}}
]},
{"width":405.1,"height":371.7,"title":{"text":"(b) Easterly wind in summer.","dx":-20.3,"offset":28},
"encoding":{"x":{"field":"x","type":"quantitative","scale":{"domain":[119.918,129.958],"nice":false,"zero":false},"axis":{"values":[120,122,124,126],"labelExpr":"datum.value + '° E'","ticks":false,"domain":false,"labelPadding":4,"title":"longitude (deg) →","titleX":124,"titleY":18.5}},"y":{"field":"y","type":"quantitative","scale":{"domain":[26,34],"nice":false,"zero":false},"axis":{"offset":-3.3,"values":[26,27,28,29,30,31,32,33,34],"labelExpr":"datum.value + '° N'","domain":false,"tickSize":-4,"tickColor":"#666","labelPadding":4,"title":"latitude (deg) ›","titleX":-34.3,"titleY":187}}},
"layer":[
{"data":{"name":"base"},"mark":"rect","encoding":{"x2":{"field":"x2"},"y2":{"field":"y2"},"color":{"field":"v","type":"quantitative","scale":{"domain":[0,0.375,1.125,1.875,2.625,3],"range":["#00007f","#0000ff","#00ffff","#ffff00","#ff0000","#7f0000"]},"legend":{"type":"gradient","format":"~g","orient":"none","legendX":275,"legendY":4.4,"gradientLength":372,"direction":"vertical","title":null,"values":[0,0.5,1,1.5,2,2.5,3]}}}},
{"data":{"name":"base"},"mark":"rect","encoding":{"x2":{"field":"x2"},"y2":{"field":"y2"},"color":{"field":"v","type":"quantitative","legend":null}}},
{"data":{"name":"b"},"mark":"rect","encoding":{"x2":{"field":"x2"},"y2":{"field":"y2"},"color":{"field":"v","type":"quantitative","legend":null}}},
{"data":{"name":"leftLine"},"mark":{"type":"rule","color":"#888","strokeWidth":1},"encoding":{"y2":{"field":"y2"}}},
{"data":{"name":"botLine"},"mark":{"type":"rule","color":"#111","strokeWidth":1},"encoding":{"x2":{"field":"x2"}}}
]},
{"width":280,"height":377.4,"title":{"text":"(c) Northerly wind in summer.","dx":-29.4,"offset":23.5},
"encoding":{"x":{"field":"x","type":"quantitative","scale":{"domain":[120,126.863],"nice":false,"zero":false},"axis":{"values":[120,122,124,126],"labelExpr":"datum.value + '° E'","ticks":false,"domain":false,"labelPadding":4,"title":"longitude (deg) →","titleX":119,"titleY":17.5}},"y":{"field":"y","type":"quantitative","scale":{"domain":[26,34.03],"nice":false,"zero":false},"axis":{"values":[26,27,28,29,30,31,32,33,34],"labelExpr":"datum.value + '° N'","domain":false,"tickSize":-4,"tickColor":"#666","labelPadding":4,"title":"latitude (deg) ›","titleX":-38.4,"titleY":188}}},
"layer":[
{"data":{"name":"base"},"mark":"rect","encoding":{"x2":{"field":"x2"},"y2":{"field":"y2"},"color":{"field":"v","type":"quantitative","scale":{"domain":[0,0.375,1.125,1.875,2.625,3],"range":["#00007f","#0000ff","#00ffff","#ffff00","#ff0000","#7f0000"]},"legend":{"type":"gradient","format":"~g","orient":"none","legendX":279.6,"legendY":6,"gradientLength":376,"direction":"vertical","title":null,"values":[0,0.5,1,1.5,2,2.5,3]}}}},
{"data":{"name":"base"},"mark":"rect","encoding":{"x2":{"field":"x2"},"y2":{"field":"y2"},"color":{"field":"v","type":"quantitative","legend":null}}},
{"data":{"name":"c"},"mark":"rect","encoding":{"x2":{"field":"x2"},"y2":{"field":"y2"},"color":{"field":"v","type":"quantitative","legend":null}}},
{"data":{"name":"leftLine"},"mark":{"type":"rule","color":"#ccc","strokeWidth":1},"encoding":{"y2":{"field":"y2"}}},
{"data":{"name":"botLine"},"mark":{"type":"rule","color":"#111","strokeWidth":1},"encoding":{"x2":{"field":"x2"}}}
]},
{"width":399.5,"height":360.5,"title":{"text":"(d) Westerly wind in summer.","dx":-25.8,"offset":22.5},
"encoding":{"x":{"field":"x","type":"quantitative","scale":{"domain":[119.925,130.235],"nice":false,"zero":false},"axis":{"values":[120,122,124,126],"labelExpr":"datum.value + '° E'","ticks":false,"domain":false,"labelPadding":4,"title":"longitude (deg) ›","titleX":119,"titleY":17.5}},"y":{"field":"y","type":"quantitative","scale":{"domain":[26,34.138],"nice":false,"zero":false},"axis":{"offset":-2.9,"values":[26,27,28,29,30,31,32,33,34],"labelExpr":"datum.value + '° N'","domain":false,"tickSize":-4,"tickColor":"#666","labelPadding":4,"title":"latitude (deg) ›","titleX":-32.8,"titleY":185}}},
"layer":[
{"data":{"name":"base"},"mark":"rect","encoding":{"x2":{"field":"x2"},"y2":{"field":"y2"},"color":{"field":"v","type":"quantitative","scale":{"domain":[0,0.375,1.125,1.875,2.625,3],"range":["#00007f","#0000ff","#00ffff","#ffff00","#ff0000","#7f0000"]},"legend":{"type":"gradient","format":"~g","orient":"none","legendX":268.2,"legendY":6.7,"gradientLength":356,"direction":"vertical","title":null,"values":[0,0.5,1,1.5,2,2.5,3]}}}},
{"data":{"name":"base"},"mark":"rect","encoding":{"x2":{"field":"x2"},"y2":{"field":"y2"},"color":{"field":"v","type":"quantitative","legend":null}}},
{"data":{"name":"d"},"mark":"rect","encoding":{"x2":{"field":"x2"},"y2":{"field":"y2"},"color":{"field":"v","type":"quantitative","legend":null}}},
{"data":{"name":"leftLine"},"mark":{"type":"rule","color":"#ccc","strokeWidth":1},"encoding":{"y2":{"field":"y2"}}},
{"data":{"name":"botLine"},"mark":{"type":"rule","color":"#111","strokeWidth":1},"encoding":{"x2":{"field":"x2"}}}
]},
{"width":405.1,"height":361.5,"title":{"text":"(e) Southerly wind in summer.","dx":-29.3,"offset":22},
"encoding":{"x":{"field":"x","type":"quantitative","scale":{"domain":[120,130.414],"nice":false,"zero":false},"axis":{"values":[120,122,124,126],"labelExpr":"datum.value + '° E'","ticks":false,"domain":false,"labelPadding":4,"title":"longitude (deg) ›","titleX":117,"titleY":16.5}},"y":{"field":"y","type":"quantitative","scale":{"domain":[26,34.105],"nice":false,"zero":false},"axis":{"values":[26,27,28,29,30,31,32,33,34],"labelExpr":"datum.value + '° N'","domain":false,"tickSize":-4,"tickColor":"#666","labelPadding":4,"title":"latitude (deg) →","titleX":-35.3,"titleY":178}}},
"layer":[
{"data":{"name":"base"},"mark":"rect","encoding":{"x2":{"field":"x2"},"y2":{"field":"y2"},"color":{"field":"v","type":"quantitative","scale":{"domain":[0,0.375,1.125,1.875,2.625,3],"range":["#00007f","#0000ff","#00ffff","#ffff00","#ff0000","#7f0000"]},"legend":{"type":"gradient","format":"~g","orient":"none","legendX":269.4,"legendY":10.7,"gradientLength":357,"direction":"vertical","title":null,"values":[0,0.5,1,1.5,2,2.5,3]}}}},
{"data":{"name":"base"},"mark":"rect","encoding":{"x2":{"field":"x2"},"y2":{"field":"y2"},"color":{"field":"v","type":"quantitative","legend":null}}},
{"data":{"name":"e"},"mark":"rect","encoding":{"x2":{"field":"x2"},"y2":{"field":"y2"},"color":{"field":"v","type":"quantitative","legend":null}}},
{"data":{"name":"leftLine"},"mark":{"type":"rule","color":"#888","strokeWidth":2},"encoding":{"y2":{"field":"y2"}}},
{"data":{"name":"botLine"},"mark":{"type":"rule","color":"#111","strokeWidth":1},"encoding":{"x2":{"field":"x2"}}}
]},
{"width":280,"height":361,"title":{"text":"(f) Northerly wind in winter.","dx":-22.4,"offset":24},
"encoding":{"x":{"field":"x","type":"quantitative","scale":{"domain":[119.858,126.983],"nice":false,"zero":false},"axis":{"values":[120,122,124,126],"labelExpr":"datum.value + '° E'","ticks":false,"domain":false,"labelPadding":4,"title":"longitude (deg) →","titleX":124,"titleY":14.5}},"y":{"field":"y","type":"quantitative","scale":{"domain":[26,34.004],"nice":false,"zero":false},"axis":{"offset":-5.6,"values":[26,27,28,29,30,31,32,33,34],"labelExpr":"datum.value + '° N'","domain":false,"tickSize":-4,"tickColor":"#666","labelPadding":4,"title":"latitude (deg) →","titleX":-29.4,"titleY":176}}},
"layer":[
{"data":{"name":"base"},"mark":"rect","encoding":{"x2":{"field":"x2"},"y2":{"field":"y2"},"color":{"field":"v","type":"quantitative","scale":{"domain":[0,0.375,1.125,1.875,2.625,3],"range":["#00007f","#0000ff","#00ffff","#ffff00","#ff0000","#7f0000"]},"legend":{"type":"gradient","format":"~g","orient":"none","legendX":272.6,"legendY":6.7,"gradientLength":361,"direction":"vertical","title":null,"values":[0,0.5,1,1.5,2,2.5,3]}}}},
{"data":{"name":"base"},"mark":"rect","encoding":{"x2":{"field":"x2"},"y2":{"field":"y2"},"color":{"field":"v","type":"quantitative","legend":null}}},
{"data":{"name":"f"},"mark":"rect","encoding":{"x2":{"field":"x2"},"y2":{"field":"y2"},"color":{"field":"v","type":"quantitative","legend":null}}},
{"data":{"name":"leftLine"},"mark":{"type":"rule","color":"#bbb","strokeWidth":1},"encoding":{"y2":{"field":"y2"}}},
{"data":{"name":"botLine"},"mark":{"type":"rule","color":"#111","strokeWidth":1},"encoding":{"x2":{"field":"x2"}}}
]}
]}
